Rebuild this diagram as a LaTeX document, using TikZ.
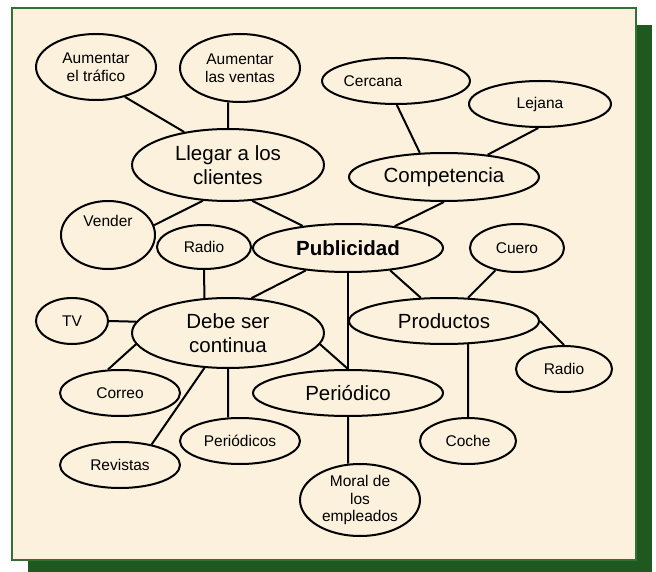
\documentclass[tikz,border=0pt]{standalone}
\usepackage{fontspec}
\setmainfont{Liberation Sans}
\usetikzlibrary{shapes.geometric}

\definecolor{paper}{RGB}{251,241,220}
\definecolor{frame}{RGB}{52,112,52}
\definecolor{shadow}{RGB}{31,89,31}

\begin{document}
\begin{tikzpicture}[
    x=1pt,y=-1pt,
    bubble/.style={draw=black,ellipse,line width=2pt,inner sep=0pt,
        align=center},
    big/.style={bubble,font=\fontsize{20.5}{24}\selectfont},
    small/.style={bubble,font=\fontsize{15.5}{18.5}\selectfont},
    dims/.style 2 args={minimum width=#1pt,minimum height=#2pt},
    link/.style={line width=2pt}
]
    \useasboundingbox (0,0) rectangle (656,572);
    \fill[shadow] (28,25) rectangle (652,577);
    \draw[frame,fill=paper,line width=1.5pt] (12,8) rectangle (636,560);

    \node[small,dims={120}{66}] (trafico) at (96,67) {Aumentar\\el tráfico};
    \node[small,dims={120}{68}] (ventas) at (240,68) {Aumentar\\las ventas};
    \node[big,dims={192}{72}] (llegar) at (228,165) {Llegar a los\\clientes};
    \node[small,dims={94}{68}] (vender) at (108,235) {Vender\\[10pt]\mbox{}};
    \node[small,dims={94}{44}] (radioa) at (204,247) {Radio};
    \node[big,dims={190}{48}] (publicidad) at (348,248) {\textbf{Publicidad}};
    \node[small,dims={144}{46}] (cercana) at (396,81) {Cercana\hspace*{46pt}};
    \node[small,dims={142}{46}] (lejana) at (540,104) {Lejana};
    \node[big,dims={190}{48}] (competencia) at (444,177) {Competencia};
    \node[small,dims={94}{48}] (cuero) at (517,248) {Cuero};
    \node[small,dims={72}{46}] (tv) at (72,321) {TV};
    \node[big,dims={192}{70}] (debe) at (228,333) {Debe ser\\continua};
    \node[big,dims={190}{46}] (productos) at (444,321) {Productos};
    \node[small,dims={96}{46}] (radiob) at (564,369) {Radio};
    \node[small,dims={120}{46}] (correo) at (120,393) {Correo};
    \node[big,dims={190}{46}] (periodico) at (348,393) {Periódico};
    \node[small,dims={120}{46}] (periodicos) at (240,441) {Periódicos};
    \node[small,dims={96}{46}] (coche) at (468,441) {Coche};
    \node[small,dims={120}{46}] (revistas) at (120,465) {Revistas};
    \node[small,dims={120}{72},font=\fontsize{15.5}{17.5}\selectfont]
        (moral) at (360,500) {Moral de\\los\\empleados};

    \foreach \from/\to in {
        trafico.-46/llegar.143, ventas.-109/llegar.north,
        llegar.-125/vender.12, llegar.-56/publicidad.154,
        cercana.-88/competencia.135, lejana.-94/competencia.27,
        competencia.south/publicidad.25, radioa.south/debe.124,
        publicidad.-152/debe.56, publicidad.south/periodico.north,
        publicidad.-28/productos.135, cuero.-134/productos.44,
        tv.east/debe.173, debe.187/correo.117, debe.-124/revistas.33,
        debe.south/periodicos.117, debe.-7/periodico.north,
        productos.east/radiob.north, productos.-44/coche.north,
        periodico.south/moral.108} {
        \draw[link] (\from) -- (\to);
    }
\end{tikzpicture}
\end{document}
